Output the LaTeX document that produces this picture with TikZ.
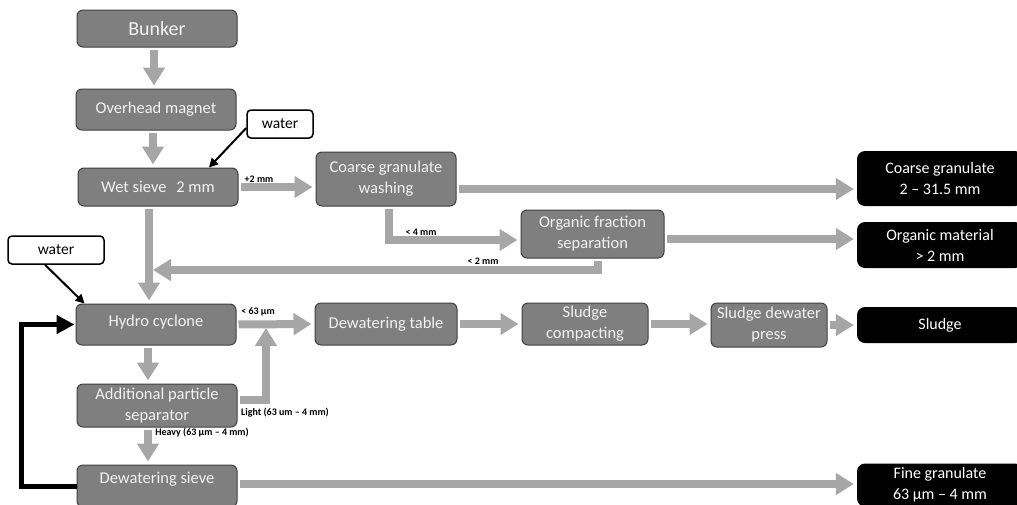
\documentclass[tikz,border=0pt]{standalone}
\usepackage{fontspec}
\setmainfont{Carlito}
\usetikzlibrary{arrows.meta,calc}
\definecolor{boxgray}{HTML}{7F7F7F}
\definecolor{boxline}{HTML}{404040}
\definecolor{arrgray}{HTML}{A6A6A6}
\begin{document}
\begin{tikzpicture}[x=1pt,y=-1pt,
 proc/.style={rectangle, rounded corners=6pt, fill=boxgray, draw=boxline, line width=1pt, text=white!95!black, align=center, inner sep=0pt, font=\fontsize{16.5}{21}\selectfont},
 outbox/.style={rectangle, rounded corners=8pt, fill=black, text=white, align=center, inner sep=0pt, font=\fontsize{16}{21}\selectfont},
 waterbox/.style={rectangle, rounded corners=4pt, fill=white, draw=black, line width=1.5pt, font=\fontsize{15.5}{18}\selectfont, minimum width=66pt, minimum height=28pt},
 garrow/.style={draw=arrgray, line width=8pt, -{Triangle[width=21pt,length=18pt]}, shorten >=3pt, shorten <=2pt},
 barrow/.style={draw=black, line width=5pt, -{Triangle[width=18pt,length=18pt]}, shorten >=1pt},
 warrow/.style={draw=black, line width=2pt, -{Triangle[width=9pt,length=9pt]}},
 lbl/.style={font=\fontsize{10}{12}\selectfont\bfseries, inner sep=0pt}
]
\useasboundingbox (0,0) rectangle (1017,504);
% nodes
\node[proc, minimum width=160pt, minimum height=37pt, font=\fontsize{20}{24}\selectfont] (bunker) at (157,28.5) {Bunker};
\node[proc, minimum width=160pt, minimum height=41pt] (magnet) at (156,109.5) {Overhead magnet};
\node[waterbox] (water1) at (280,124) {water};
\node[proc, minimum width=160pt, minimum height=38pt] (wet) at (158,187) {Wet sieve\hspace{0.6em}2 mm};
\node[proc, minimum width=140pt, minimum height=54pt] (cgw) at (386,179) {Coarse granulate\\washing};
\node[proc, minimum width=143pt, minimum height=48pt] (ofs) at (592.5,234) {Organic fraction\\separation};
\node[outbox, minimum width=166pt, minimum height=55pt] (cgo) at (940,178.5) {Coarse granulate\\2 – 31.5 mm};
\node[outbox, minimum width=166pt, minimum height=46pt] (omo) at (940,245) {Organic material\\> 2 mm};
\node[waterbox, minimum width=96pt] (water2) at (56,250) {water};
\node[proc, minimum width=160pt, minimum height=41pt] (hydro) at (156,324.5) {\raisebox{8pt}{Hydro cyclone}};
\node[proc, minimum width=142pt, minimum height=42pt] (table) at (386,324) {Dewatering table};
\node[proc, minimum width=126pt, minimum height=42pt] (compact) at (585,324) {Sludge\\compacting};
\node[proc, minimum width=116pt, minimum height=44pt] (press) at (769,325) {Sludge dewater\\press};
\node[outbox, minimum width=166pt, minimum height=36pt] (sludge) at (940,325) {Sludge};
\node[proc, minimum width=160pt, minimum height=43pt] (addsep) at (157,405.5) {Additional particle\\separator};
\node[proc, minimum width=160pt, minimum height=42pt] (dsieve) at (157,486) {\raisebox{16pt}{Dewatering sieve}};
\node[outbox, minimum width=166pt, minimum height=43pt] (fine) at (940,485) {Fine granulate\\63 µm – 4 mm};
% gray flow arrows
\draw[garrow] ([xshift=-3pt]bunker.south) -- ([xshift=-2pt]magnet.north);
\draw[garrow] ([xshift=-3pt]magnet.south) -- ([xshift=-5pt]wet.north);
\draw[garrow] (wet.east) -- (wet.east -| cgw.west);
\draw[garrow] ([yshift=-10pt]cgw.east) -- ([yshift=-10pt]cgw.east -| cgo.west);
\draw[garrow] ([xshift=3pt]cgw.south) |- ([yshift=-6pt]ofs.west);
\draw[garrow] ([yshift=-5pt]ofs.east) -- ([yshift=-5pt]ofs.east -| omo.west);
\coordinate (m1) at (153,270);
\draw[garrow, shorten >=0pt] ([xshift=5pt]ofs.south) |- (m1);
\draw[garrow] ([xshift=-9pt]wet.south) -- ([xshift=-7pt]hydro.north);
\draw[garrow] (hydro.east) -- (table.west);
\coordinate (m2) at (266,328);
\draw[garrow, shorten >=0pt] ([yshift=6pt]addsep.east) -| (m2);
\draw[garrow] ([xshift=-8pt]hydro.south) -- ([xshift=-9pt]addsep.north);
\draw[garrow] ([xshift=-9pt]addsep.south) -- ([xshift=-9pt]dsieve.north);
\draw[garrow] ([yshift=2pt]dsieve.east) -- ([yshift=2pt]dsieve.east -| fine.west);
\draw[garrow] (table.east) -- (compact.west);
\draw[garrow] (compact.east) -- (compact.east -| press.west);
\draw[garrow] (press.east) -- (sludge.west);
% black feedback
\coordinate (fb) at (21,486);
\draw[barrow] (dsieve.west) -- (fb) |- (hydro.west);
% water arrows
\draw[warrow] ([yshift=-4pt]water1.west) -- ([xshift=51pt]wet.north);
\draw[warrow] ([xshift=-11pt]water2.south) -- ([xshift=9pt]hydro.north west);
% labels
\node[lbl] (l1) at (259,179) {+2 mm};
\node[lbl] (l2) at (421,232) {< 4 mm};
\node[lbl] (l3) at (483,261) {< 2 mm};
\node[lbl] (l4) at (258,312) {< 63 µm};
\node[lbl] (l5) at (285,413) {Light (63 um – 4 mm)};
\node[lbl] (l6) at (202,433) {Heavy (63 µm – 4 mm)};
\end{tikzpicture}
\end{document}
